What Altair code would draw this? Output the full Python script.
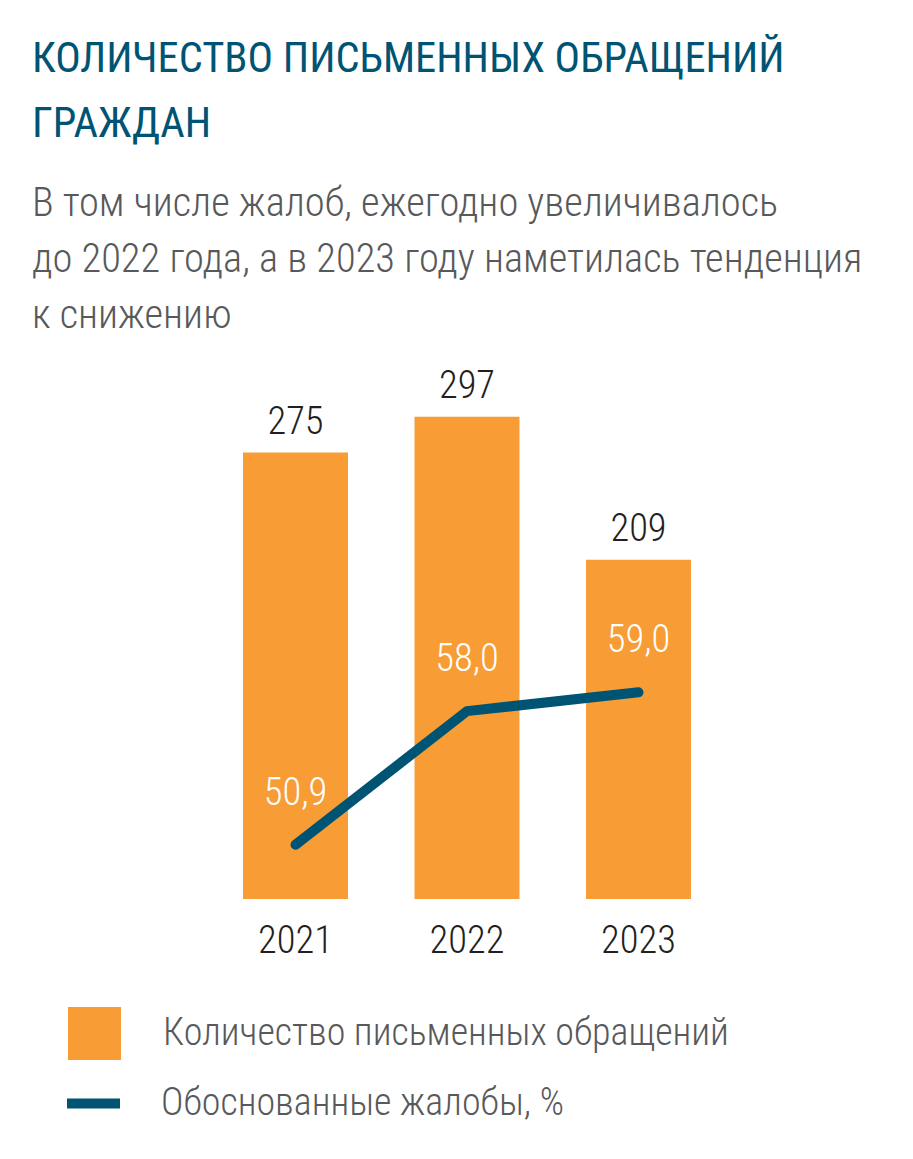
import altair as alt
import pandas as pd

years = ["2021", "2022", "2023"]
letters = [275, 297, 209]
justified = [50.9, 58.0, 59.0]
bar_series = "Количество письменных обращений"
line_series = "Обоснованные жалобы, %"

title_lines = ["КОЛИЧЕСТВО ПИСЬМЕННЫХ ОБРАЩЕНИЙ", "ГРАЖДАН"]
subtitle_lines = [
    "В том числе жалоб, ежегодно увеличивалось",
    "до 2022 года, а в 2023 году наметилась тенденция",
    "к снижению",
]

ORANGE = "#F89C35"
TEAL = "#005473"
GRAY = "#58595B"
DARK = "#231F20"
FONT = "Roboto Condensed"
NUM_SIZE = 38.5

df = pd.DataFrame({
    "year": years,
    "letters": letters,
    "justified": justified,
    "jlabel": [f"{v:.1f}".replace(".", ",") for v in justified],
    "bs": [bar_series] * 3,
    "ls": [line_series] * 3,
})

base = alt.Chart(df)
xenc = alt.X(
    "year:N",
    title=None,
    scale=alt.Scale(paddingInner=0.388, paddingOuter=0.194),
    axis=alt.Axis(domain=False, ticks=False, labelFontSize=NUM_SIZE, labelFont=FONT, labelFontWeight=300,
                  labelColor=DARK, labelPadding=23, labelAngle=0),
)
ybar = alt.Y("letters:Q", scale=alt.Scale(domain=[0, 332]), axis=None)

bars = base.mark_bar().encode(
    x=xenc,
    y=ybar,
    fill=alt.Fill("bs:N", scale=alt.Scale(range=[ORANGE]),
                  legend=alt.Legend(title=None, orient="none", legendX=-141.75, legendY=647,
                                    symbolType="square", symbolSize=2809, symbolStrokeWidth=0,
                                    labelFontSize=38, labelFont=FONT, labelFontWeight=300,
                                    labelColor=GRAY, labelLimit=800,
                                    labelOffset=42, padding=0)),
)
bar_text = base.mark_text(baseline="alphabetic", dy=-19, fontSize=NUM_SIZE, font=FONT, fontWeight=300,
                          color=DARK).encode(
    x=xenc, y=ybar, text="letters:Q"
)

yline = alt.Y("justified:Q", scale=alt.Scale(domain=[48.02, 76.65]), axis=None)
line = base.mark_line(strokeWidth=10, strokeCap="round", strokeJoin="round").encode(
    x=xenc,
    y=yline,
    stroke=alt.Stroke("ls:N", scale=alt.Scale(range=[TEAL]),
                      legend=alt.Legend(title=None, orient="none", legendX=-147.75, legendY=712,
                                        symbolType="stroke", symbolSize=2809, symbolStrokeWidth=10,
                                        labelFontSize=38, labelFont=FONT, labelFontWeight=300,
                                        labelColor=GRAY, labelLimit=800,
                                        labelOffset=36, padding=0)),
)
line_text = base.mark_text(baseline="middle", dy=-52, fontSize=NUM_SIZE, font=FONT, fontWeight=300,
                           color="white").encode(
    x=xenc, y=yline, text="jlabel:N"
)

chart = alt.layer(
    alt.layer(bars, bar_text),
    alt.layer(line, line_text),
).resolve_scale(y="independent").properties(
    width=514.5,
    height=539,
    autosize=alt.AutoSizeParams(type="none"),
    padding={"left": 201.75, "top": 352, "right": 180.75, "bottom": 252},
    title=alt.TitleParams(
        text=title_lines,
        subtitle=subtitle_lines,
        anchor="start",
        frame="group",
        dx=-177.75,
        offset=24,
        font=FONT,
        fontSize=42.5,
        fontWeight=400,
        lineHeight=65,
        color=TEAL,
        subtitleFont=FONT,
        subtitleFontSize=40.5,
        subtitleFontWeight=300,
        subtitleLineHeight=56,
        subtitleColor=GRAY,
        subtitlePadding=38,
    ),
).configure_view(strokeWidth=0)

chart.save("out.html", embed_options={"renderer": "svg", "actions": False})
